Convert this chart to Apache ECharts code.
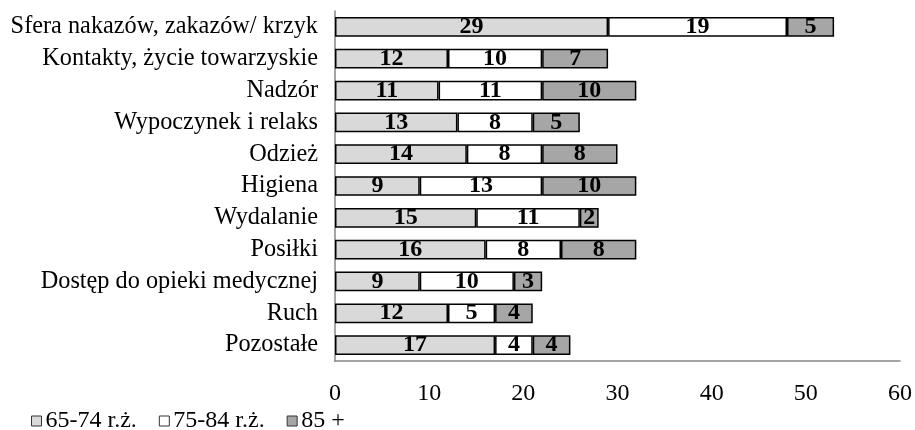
<!DOCTYPE html>
<html><head><meta charset="utf-8">
<script src="https://cdn.jsdelivr.net/npm/echarts@6/dist/echarts.min.js"></script>
<style>html,body{margin:0;padding:0;background:#fff}#c{width:915px;height:430px}</style>
</head><body><div id="c"></div>
<script>
const categories = ["Sfera nakazów, zakazów/ krzyk","Kontakty, życie towarzyskie","Nadzór","Wypoczynek i relaks","Odzież","Higiena","Wydalanie","Posiłki","Dostęp do opieki medycznej","Ruch","Pozostałe"];
const seriesNames = ["65-74 r.ż.","75-84 r.ż.","85 +"];
const age65_74 = [29,12,11,13,14,9,15,16,9,12,17];
const age75_84 = [19,10,11,8,8,13,11,8,10,5,4];
const age85plus = [5,7,10,5,8,10,2,8,3,4,4];
const colors = ["#d9d9d9","#ffffff","#a6a6a6"];
const font = "'Liberation Serif','Times New Roman',serif";
const mk = (name, data, color) => ({
  name, type:'bar', stack:'a', data, barCategoryGap:'38%',
  itemStyle:{color, borderColor:'#000', borderWidth:1.5},
  label:{show:true, position:'inside', color:'#000', fontFamily:font, fontWeight:'bold', fontSize:24},
  emphasis:{disabled:true}
});
const chart = echarts.init(document.getElementById('c'));
chart.setOption({
  animation:false,
  textStyle:{fontFamily:font},
  grid:{left:335, right:13, top:11, bottom:69, containLabel:false},
  legend:{left:31, top:409, itemWidth:10, itemHeight:10, itemGap:22, icon:'rect', padding:0,
    textStyle:{fontFamily:font, fontSize:24, color:'#000', padding:[0,0,0,-1]},
    data:seriesNames.map((n,i)=>({name:n, itemStyle:{color:colors[i], borderColor:'#333', borderWidth:1}}))},
  xAxis:{type:'value', min:0, max:60, interval:10,
    axisLine:{show:true, lineStyle:{color:'#868686', width:1.5}}, axisTick:{show:false}, splitLine:{show:false},
    axisLabel:{color:'#000', fontFamily:font, fontSize:24, margin:21}},
  yAxis:{type:'category', data:categories, inverse:true,
    axisLine:{show:true, lineStyle:{color:'#868686', width:1.5}}, axisTick:{show:false},
    axisLabel:{color:'#000', fontFamily:font, fontSize:24.3, margin:17}},
  series:[mk(seriesNames[0],age65_74,colors[0]), mk(seriesNames[1],age75_84,colors[1]), mk(seriesNames[2],age85plus,colors[2])]
});
</script></body></html>
